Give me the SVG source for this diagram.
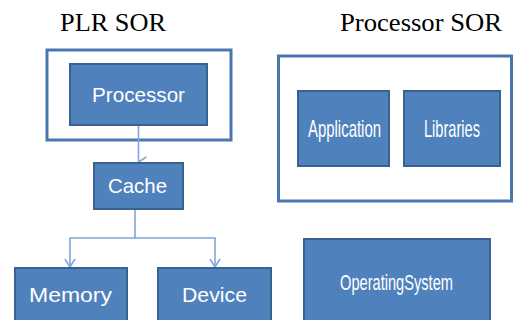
<svg xmlns="http://www.w3.org/2000/svg" width="515" height="320" viewBox="0 0 515 320">
<defs>
<style>
.title{font-family:"Liberation Serif",serif;font-size:26px;fill:#000}
.box{fill:#4f81bd;stroke:#3a6290;stroke-width:2}
.frame{fill:#fff;stroke:#4a76ae;stroke-width:3}
.lbl{font-family:"Liberation Sans",Arial,sans-serif;fill:#fff;text-anchor:start}
.conn{fill:none;stroke:#7fa7d9;stroke-width:1.6}
</style>
<marker id="arr" viewBox="0 0 12 10" refX="6" refY="9" markerWidth="12" markerHeight="10" markerUnits="userSpaceOnUse" orient="auto-start-reverse">
<path d="M1,1 L6,9 L11,1" fill="none" stroke="#7fa7d9" stroke-width="1.6"/>
</marker>
</defs>
<text class="title" x="60" y="31" textLength="106" lengthAdjust="spacingAndGlyphs">PLR SOR</text>
<text class="title" x="340" y="31" textLength="162" lengthAdjust="spacingAndGlyphs">Processor SOR</text>
<g id="plr-frame"><rect class="frame" x="47" y="50" width="184" height="90"/></g>
<g id="proc-frame"><rect class="frame" x="278.5" y="56" width="233" height="145"/></g>
<g id="connectors">
<path class="conn" d="M138.5,126 V162" marker-end="url(#arr)"/>
<path class="conn" d="M135,210 V238 H70 V267"/>
<path class="conn" d="M135,238 H215 V267"/>
<path d="M65,259 L70,267 L75,259" class="conn"/>
<path d="M210,259 L215,267 L220,259" class="conn"/>
</g>
<g id="processor"><rect class="box" x="70" y="64" width="137" height="61"/><text class="lbl" x="92" y="102" font-size="20" textLength="93" lengthAdjust="spacingAndGlyphs">Processor</text></g>
<g id="cache"><rect class="box" x="94" y="163" width="89" height="46"/><text class="lbl" x="108" y="193" font-size="21" textLength="59" lengthAdjust="spacingAndGlyphs">Cache</text></g>
<g id="memory"><rect class="box" x="15" y="268" width="112" height="60"/><text class="lbl" x="29" y="302" font-size="20" textLength="83" lengthAdjust="spacingAndGlyphs">Memory</text></g>
<g id="device"><rect class="box" x="158" y="268" width="113" height="60"/><text class="lbl" x="182" y="302" font-size="20" textLength="65" lengthAdjust="spacingAndGlyphs">Device</text></g>
<g id="application"><rect class="box" x="298" y="91" width="91" height="75"/><text class="lbl" x="308" y="137" font-size="24" textLength="73" lengthAdjust="spacingAndGlyphs">Application</text></g>
<g id="libraries"><rect class="box" x="404" y="91" width="96" height="75"/><text class="lbl" x="424" y="137" font-size="24" textLength="56" lengthAdjust="spacingAndGlyphs">Libraries</text></g>
<g id="os"><rect class="box" x="304" y="239" width="186" height="90"/><text class="lbl" x="340" y="290" font-size="22" textLength="113" lengthAdjust="spacingAndGlyphs">OperatingSystem</text></g>
</svg>
